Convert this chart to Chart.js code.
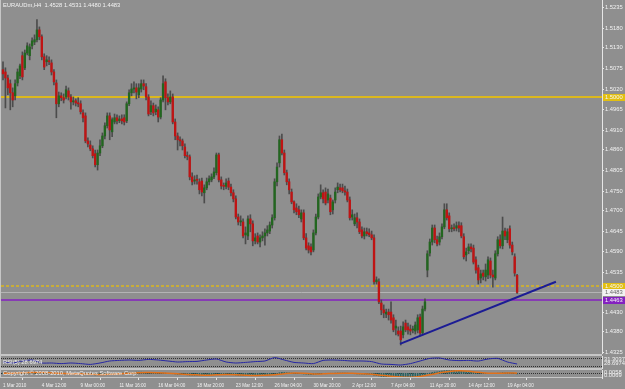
<!DOCTYPE html>
<html>
<head>
<meta charset="utf-8">
<script src="https://cdn.jsdelivr.net/npm/chart.js@4.4.1/dist/chart.umd.min.js"></script>
<style>
html, body { margin: 0; padding: 0; background: #8f8f8f; }
#wrap { position: relative; width: 625px; height: 389px; overflow: hidden; background: #8f8f8f; }
canvas { position: absolute; left: 0; }
</style>
</head>
<body>
<div id="wrap">
  <canvas id="main" width="625" height="354" style="top:0px"></canvas>
  <canvas id="rsi" width="625" height="16" style="top:354px"></canvas>
  <canvas id="osma" width="625" height="19" style="top:370px"></canvas>
</div>
<script>
// EURAUDm H4 candles, 1 Mar - 19 Apr 2010
const opens = [
  1.5071,1.5065,1.5049,1.5034,1.5010,1.5002,1.5036,1.5055,1.5108,1.5076,1.5115,1.5108,1.5134,1.5144,1.5150,1.5176,
  1.5158,1.5105,1.5092,1.5094,1.5089,1.5065,1.5036,1.4981,1.5002,1.4997,1.4999,1.5015,1.4999,1.4986,1.4989,1.4983,
  1.4981,1.4957,1.4949,1.4883,1.4872,1.4862,1.4849,1.4820,1.4851,1.4870,1.4896,1.4923,1.4949,1.4907,1.4933,1.4944,
  1.4936,1.4941,1.4944,1.4936,1.4981,1.5010,1.5020,1.5023,1.5005,1.5020,1.5034,1.5026,1.4999,1.4960,1.4976,1.4960,
  1.4965,1.4946,1.4991,1.5039,1.4997,1.4986,1.4999,1.4933,1.4896,1.4886,1.4883,1.4867,1.4844,1.4841,1.4788,1.4777,
  1.4780,1.4775,1.4777,1.4746,1.4759,1.4775,1.4780,1.4788,1.4799,1.4846,1.4780,1.4764,1.4763,1.4777,1.4761,1.4746,
  1.4730,1.4682,1.4669,1.4669,1.4635,1.4632,1.4677,1.4664,1.4619,1.4632,1.4616,1.4627,1.4632,1.4640,1.4645,1.4661,
  1.4680,1.4775,1.4825,1.4886,1.4851,1.4799,1.4775,1.4748,1.4722,1.4706,1.4701,1.4677,1.4693,1.4627,1.4606,1.4603,
  1.4595,1.4640,1.4682,1.4735,1.4746,1.4748,1.4727,1.4732,1.4701,1.4727,1.4754,1.4759,1.4759,1.4751,1.4748,1.4727,
  1.4682,1.4664,1.4680,1.4669,1.4648,1.4632,1.4643,1.4640,1.4635,1.4627,1.4511,1.4511,1.4455,1.4437,1.4426,1.4431,
  1.4431,1.4416,1.4389,1.4381,1.4381,1.4371,1.4402,1.4392,1.4386,1.4384,1.4381,1.4384,1.4418,1.4376,1.4439,1.4542,
  1.4587,1.4616,1.4653,1.4622,1.4616,1.4630,1.4656,1.4701,1.4685,1.4651,1.4653,1.4653,1.4659,1.4659,1.4630,1.4582,
  1.4593,1.4603,1.4600,1.4569,1.4548,1.4521,1.4534,1.4524,1.4529,1.4566,1.4529,1.4521,1.4585,1.4622,1.4606,1.4645,
  1.4622,1.4651,1.4608,1.4577,1.4528
];
const highs = [
  1.5092,1.5076,1.5057,1.5044,1.5023,1.5044,1.5073,1.5086,1.5118,1.5123,1.5142,1.5139,1.5155,1.5163,1.5203,1.5184,
  1.5163,1.5113,1.5108,1.5105,1.5097,1.5071,1.5044,1.5012,1.5010,1.5007,1.5028,1.5023,1.5005,1.4999,1.4994,1.4997,
  1.4989,1.4965,1.4957,1.4891,1.4883,1.4870,1.4859,1.4859,1.4886,1.4904,1.4931,1.4957,1.4957,1.4944,1.4954,1.4952,
  1.4949,1.4952,1.4952,1.4986,1.5018,1.5034,1.5039,1.5034,1.5034,1.5044,1.5044,1.5034,1.5005,1.4989,1.4983,1.4978,
  1.4973,1.4997,1.5055,1.5047,1.5007,1.5015,1.5007,1.4941,1.4904,1.4894,1.4888,1.4875,1.4854,1.4846,1.4799,1.4791,
  1.4793,1.4783,1.4785,1.4767,1.4785,1.4791,1.4796,1.4812,1.4851,1.4851,1.4788,1.4772,1.4783,1.4785,1.4769,1.4754,
  1.4738,1.4690,1.4685,1.4677,1.4656,1.4685,1.4688,1.4672,1.4638,1.4640,1.4635,1.4643,1.4651,1.4659,1.4669,1.4688,
  1.4783,1.4825,1.4896,1.4901,1.4859,1.4806,1.4783,1.4756,1.4725,1.4717,1.4711,1.4701,1.4701,1.4638,1.4614,1.4611,
  1.4648,1.4690,1.4743,1.4767,1.4754,1.4759,1.4756,1.4740,1.4727,1.4759,1.4772,1.4769,1.4769,1.4764,1.4756,1.4735,
  1.4701,1.4690,1.4693,1.4677,1.4656,1.4653,1.4653,1.4651,1.4645,1.4635,1.4524,1.4519,1.4463,1.4450,1.4439,1.4439,
  1.4458,1.4424,1.4410,1.4392,1.4394,1.4405,1.4410,1.4402,1.4397,1.4394,1.4405,1.4424,1.4426,1.4447,1.4466,1.4593,
  1.4624,1.4661,1.4661,1.4632,1.4640,1.4664,1.4717,1.4717,1.4693,1.4661,1.4664,1.4669,1.4669,1.4667,1.4638,1.4600,
  1.4611,1.4611,1.4608,1.4577,1.4555,1.4542,1.4542,1.4558,1.4577,1.4574,1.4542,1.4593,1.4630,1.4635,1.4682,1.4653,
  1.4651,1.4659,1.4616,1.4585,1.4531
];
const lows = [
  1.5044,1.4970,1.5005,1.4965,1.4973,1.4991,1.5028,1.5047,1.5044,1.5071,1.5110,1.5097,1.5126,1.5137,1.5144,1.5150,
  1.5097,1.5071,1.5081,1.5084,1.5057,1.5031,1.4944,1.4973,1.4989,1.4983,1.4994,1.4991,1.4967,1.4978,1.4975,1.4973,
  1.4954,1.4933,1.4878,1.4867,1.4857,1.4838,1.4814,1.4806,1.4844,1.4865,1.4888,1.4917,1.4886,1.4894,1.4928,1.4928,
  1.4931,1.4928,1.4925,1.4931,1.4976,1.5002,1.5010,1.4994,1.4997,1.5012,1.5018,1.4991,1.4949,1.4952,1.4949,1.4952,
  1.4933,1.4941,1.4986,1.4965,1.4978,1.4981,1.4928,1.4886,1.4859,1.4870,1.4859,1.4838,1.4833,1.4780,1.4767,1.4769,
  1.4769,1.4743,1.4738,1.4719,1.4754,1.4767,1.4775,1.4783,1.4793,1.4775,1.4756,1.4754,1.4756,1.4754,1.4738,1.4722,
  1.4677,1.4661,1.4659,1.4627,1.4611,1.4622,1.4643,1.4606,1.4611,1.4611,1.4603,1.4619,1.4608,1.4632,1.4638,1.4653,
  1.4674,1.4764,1.4814,1.4846,1.4793,1.4767,1.4743,1.4717,1.4693,1.4688,1.4680,1.4669,1.4622,1.4595,1.4587,1.4582,
  1.4590,1.4635,1.4677,1.4730,1.4719,1.4714,1.4719,1.4688,1.4690,1.4719,1.4746,1.4748,1.4746,1.4740,1.4722,1.4674,
  1.4674,1.4659,1.4653,1.4638,1.4627,1.4624,1.4632,1.4630,1.4622,1.4505,1.4505,1.4453,1.4424,1.4416,1.4416,1.4410,
  1.4402,1.4379,1.4371,1.4368,1.4344,1.4363,1.4379,1.4373,1.4371,1.4376,1.4373,1.4376,1.4368,1.4371,1.4434,1.4524,
  1.4579,1.4608,1.4614,1.4606,1.4608,1.4624,1.4651,1.4674,1.4643,1.4643,1.4645,1.4645,1.4643,1.4627,1.4571,1.4566,
  1.4585,1.4590,1.4558,1.4534,1.4505,1.4508,1.4516,1.4513,1.4519,1.4521,1.4497,1.4516,1.4579,1.4600,1.4598,1.4622,
  1.4614,1.4600,1.4582,1.4526,1.4480
];
const closes = [
  1.5060,1.5049,1.5023,1.5010,1.4991,1.5034,1.5065,1.5081,1.5052,1.5115,1.5134,1.5131,1.5147,1.5150,1.5176,1.5158,
  1.5105,1.5078,1.5097,1.5092,1.5065,1.5039,1.4981,1.5002,1.4997,1.4991,1.5018,1.4999,1.4986,1.4989,1.4983,1.4981,
  1.4960,1.4944,1.4883,1.4875,1.4862,1.4844,1.4820,1.4851,1.4870,1.4896,1.4923,1.4949,1.4912,1.4939,1.4944,1.4936,
  1.4941,1.4936,1.4933,1.4981,1.5010,1.5020,1.5023,1.5012,1.5023,1.5034,1.5028,1.4999,1.4954,1.4976,1.4957,1.4967,
  1.4946,1.4991,1.5034,1.4997,1.4986,1.4999,1.4933,1.4896,1.4886,1.4883,1.4870,1.4844,1.4842,1.4788,1.4775,1.4780,
  1.4779,1.4754,1.4748,1.4759,1.4775,1.4783,1.4788,1.4801,1.4846,1.4780,1.4764,1.4763,1.4772,1.4761,1.4746,1.4730,
  1.4682,1.4669,1.4672,1.4632,1.4640,1.4677,1.4664,1.4619,1.4627,1.4616,1.4627,1.4632,1.4640,1.4648,1.4661,1.4680,
  1.4775,1.4814,1.4886,1.4851,1.4799,1.4775,1.4754,1.4722,1.4701,1.4696,1.4688,1.4693,1.4627,1.4600,1.4595,1.4590,
  1.4640,1.4682,1.4735,1.4746,1.4730,1.4719,1.4743,1.4696,1.4722,1.4748,1.4761,1.4754,1.4751,1.4748,1.4727,1.4680,
  1.4688,1.4680,1.4669,1.4643,1.4632,1.4643,1.4638,1.4635,1.4627,1.4511,1.4516,1.4458,1.4437,1.4429,1.4431,1.4424,
  1.4410,1.4384,1.4394,1.4373,1.4358,1.4392,1.4384,1.4384,1.4381,1.4386,1.4397,1.4416,1.4376,1.4439,1.4458,1.4585,
  1.4616,1.4653,1.4622,1.4611,1.4630,1.4656,1.4701,1.4680,1.4651,1.4653,1.4651,1.4659,1.4653,1.4632,1.4577,1.4590,
  1.4603,1.4598,1.4563,1.4542,1.4516,1.4532,1.4526,1.4542,1.4569,1.4529,1.4524,1.4585,1.4622,1.4606,1.4645,1.4632,
  1.4643,1.4608,1.4590,1.4534,1.4483
];

// right price scale and bottom time scale
const priceTicks = [1.5235, 1.5180, 1.5130, 1.5075, 1.5020, 1.4965, 1.4910, 1.4860, 1.4805, 1.4750,
                    1.4700, 1.4645, 1.4590, 1.4535, 1.4430, 1.4380, 1.4325];
const timeTickBars = [0, 16, 32, 48, 64, 80, 96, 112, 128, 144, 160, 176, 192, 208];
const timeTickLabels = ['1 Mar 2010', '4 Mar 12:00', '9 Mar 00:00', '11 Mar 16:00', '16 Mar 04:00', '18 Mar 20:00',
                        '23 Mar 12:00', '26 Mar 04:00', '30 Mar 20:00', '2 Apr 12:00', '7 Apr 04:00', '11 Apr 20:00',
                        '14 Apr 12:00', '19 Apr 04:00'];

// horizontal lines and the trend line
const levelPrices = [1.5000, 1.4500, 1.4483, 1.4463];
const levelColors = ['#dcb81e', '#dcb81e', '#b4b4b4', '#8421c0'];
const levelWidths = [2, 1.5, 1, 1.5];
const levelBoxColors = ['#e2bf12', '#e2bf12', '#f2f2f2', '#8421c0'];
const levelBoxText = ['#f6f6f6', '#f6f6f6', '#6a6a6a', '#f6f6f6'];
const levelDash = [[], [3, 2], [], []];
const trendBars = [163.7, 228];
const trendPrices = [1.4347, 1.4511];

// RSI(5) sub window, read every 4 bars
const rsiBars = [0, 4, 8, 12, 16, 20, 24, 28, 32, 36, 40, 44, 48, 52, 56, 60, 64, 68, 72, 76, 80, 84, 88, 92, 96, 100,
                 104, 108, 112, 116, 120, 124, 128, 132, 136, 140, 144, 148, 152, 156, 160, 164, 168, 172, 176, 180,
                 184, 188, 192, 196, 200, 204, 208, 212];
const rsiValues = [50, 45, 55, 60, 45, 45, 42, 45, 42, 38, 45, 55, 58, 60, 58, 63, 60, 55, 50, 52, 53, 60, 65, 50, 45, 48,
                   52, 55, 72, 60, 48, 45, 42, 58, 60, 58, 55, 55, 52, 40, 38, 35, 42, 55, 68, 70,
                   60, 57, 58, 55, 65, 68, 50, 40];

// OsMA sub window: histogram per bar, orange signal every 4 bars
const osmaHist = [
  0.0002,0.0003,0.0003,0.0002,0.0001,0.0001,0.0002,0.0003,0.0004,0.0005,0.0006,0.0007,0.0008,0.0008,0.0009,0.0008,
  0.0006,0.0004,0.0003,0.0002,0.0001,0.0000,-0.0002,-0.0003,-0.0003,-0.0003,-0.0002,-0.0002,-0.0002,-0.0002,-0.0002,-0.0002,
  -0.0003,-0.0004,-0.0006,-0.0007,-0.0008,-0.0009,-0.0010,-0.0009,-0.0008,-0.0006,-0.0004,-0.0002,-0.0001,0.0000,0.0001,0.0002,
  0.0002,0.0003,0.0003,0.0004,0.0006,0.0007,0.0008,0.0009,0.0009,0.0009,0.0008,0.0006,0.0004,0.0003,0.0002,0.0001,
  0.0000,0.0001,0.0002,0.0002,0.0001,0.0000,-0.0002,-0.0004,-0.0006,-0.0007,-0.0008,-0.0009,-0.0010,-0.0012,-0.0013,-0.0013,
  -0.0013,-0.0013,-0.0013,-0.0012,-0.0011,-0.0010,-0.0009,-0.0007,-0.0005,-0.0005,-0.0006,-0.0006,-0.0006,-0.0007,-0.0008,-0.0009,
  -0.0011,-0.0013,-0.0014,-0.0015,-0.0016,-0.0016,-0.0015,-0.0015,-0.0015,-0.0015,-0.0014,-0.0013,-0.0012,-0.0011,-0.0010,-0.0008,
  -0.0004,0.0000,0.0005,0.0007,0.0007,0.0006,0.0005,0.0003,0.0001,0.0000,-0.0001,-0.0002,-0.0004,-0.0006,-0.0008,-0.0009,
  -0.0008,-0.0006,-0.0003,-0.0001,0.0000,0.0001,0.0001,0.0001,0.0001,0.0002,0.0003,0.0003,0.0003,0.0003,0.0002,0.0000,
  -0.0001,-0.0002,-0.0003,-0.0004,-0.0005,-0.0006,-0.0006,-0.0007,-0.0008,-0.0012,-0.0015,-0.0018,-0.0021,-0.0023,-0.0025,-0.0026,
  -0.0027,-0.0028,-0.0028,-0.0028,-0.0028,-0.0027,-0.0026,-0.0025,-0.0024,-0.0023,-0.0021,-0.0019,-0.0017,-0.0014,-0.0011,-0.0004,
  0.0002,0.0007,0.0010,0.0012,0.0014,0.0016,0.0019,0.0020,0.0020,0.0020,0.0020,0.0019,0.0018,0.0017,0.0014,0.0012,
  0.0010,0.0009,0.0007,0.0005,0.0003,0.0001,0.0000,-0.0001,0.0000,0.0000,-0.0001,0.0000,0.0002,0.0003,0.0005,0.0005,
  0.0005,0.0004,0.0003,0.0000,-0.0003
];
const osmaSignalBars = rsiBars;
const osmaSignal = [0.0001, 0.0002, 0.0004, 0.0006, 0.0006, 0.0003, 0.0000, -0.0002, -0.0003, -0.0005, -0.0007, -0.0005,
                    -0.0002, 0.0002, 0.0005, 0.0006, 0.0004, 0.0001, -0.0003, -0.0007, -0.0010, -0.0012, -0.0010, -0.0008,
                    -0.0009, -0.0012, -0.0014, -0.0013, -0.0009, -0.0002, 0.0003, 0.0001, -0.0004, -0.0003, 0.0000, 0.0002,
                    0.0001, -0.0002, -0.0006, -0.0013, -0.0020, -0.0025, -0.0026, -0.0021, -0.0010, 0.0004, 0.0014, 0.0018,
                    0.0015, 0.0008, 0.0002, 0.0001, 0.0003, 0.0002];

const FG = '#f2f2f2';
const EDGE = '#c6c6c6';
const FONT = 'Liberation Sans';
const xMin = -0.825, xMax = 247;

function bodyColor(i) {
    return closes[i] >= opens[i] ? '#22661f' : '#bf1414';
}

// no extra label padding, so the plot area is exactly the window
function noPad(s) {
    s.paddingTop = 0;
    s.paddingBottom = 0;
    s.paddingLeft = 0;
    s.paddingRight = 0;
}

// fixed width right axis so all three windows line up
function sideAxis(min, max, ticks) {
    return {
        position: 'right', min: min, max: max,
        afterBuildTicks: s => { s.ticks = ticks.map(v => ({value: v})); },
        afterFit: s => { s.width = 23; noPad(s); },
        ticks: {color: FG, font: {family: FONT, size: 5.8}, padding: 1, autoSkip: false,
                callback: v => v.toFixed(4)},
        grid: {drawOnChartArea: false, drawTicks: true, tickLength: 2, color: '#e6e6e6'},
        border: {color: '#e6e6e6', width: 1}
    };
}

const levelsPlugin = {
    id: 'levels',
    beforeDatasetsDraw(chart) {
        const {ctx, chartArea, scales} = chart;
        ctx.save();
        levelPrices.forEach((p, k) => {
            let py = Math.round(scales.y.getPixelForValue(p)) + (levelWidths[k] === 1 ? 0.5 : 0);
            ctx.strokeStyle = levelColors[k];
            ctx.lineWidth = levelWidths[k];
            ctx.setLineDash(levelDash[k]);
            ctx.beginPath();
            ctx.moveTo(chartArea.left, py);
            ctx.lineTo(chartArea.right, py);
            ctx.stroke();
        });
        ctx.restore();
    },
    afterDraw(chart) {
        const {ctx, chartArea, scales} = chart;
        ctx.save();
        ctx.font = '5.8px ' + FONT;
        ctx.textBaseline = 'middle';
        levelPrices.forEach((p, k) => {
            let py = Math.round(scales.y.getPixelForValue(p));
            ctx.fillStyle = levelBoxColors[k];
            ctx.fillRect(chartArea.right + 1, py - 3, 22, 7);
            ctx.fillStyle = levelBoxText[k];
            ctx.fillText(p.toFixed(4), chartArea.right + 3, py + 0.5);
        });
        ctx.fillStyle = FG;
        ctx.fillText('EURAUDm,H4  1.4528 1.4531 1.4480 1.4483', 3, 5);
        ctx.fillStyle = EDGE;
        ctx.fillRect(0, 0, 1, chart.height);
        ctx.restore();
    }
};

new Chart(document.getElementById('main'), {
    type: 'bar',
    data: {
        datasets: [
            {data: lows.map((l, i) => ({x: i, y: [l, highs[i]]})), backgroundColor: '#4c4c4c',
             barThickness: 1, grouped: false, order: 3},
            {data: opens.map((o, i) => ({x: i, y: [o, closes[i]]})), backgroundColor: opens.map((o, i) => bodyColor(i)),
             barThickness: 1.7, minBarLength: 1, grouped: false, order: 2},
            {type: 'line', data: trendBars.map((b, i) => ({x: b, y: trendPrices[i]})), borderColor: '#1c1c94',
             borderWidth: 2, pointRadius: 0, order: 1}
        ]
    },
    options: {
        responsive: false, animation: false, events: [],
        layout: {padding: {left: 1, top: 0, right: 0, bottom: 1}},
        plugins: {legend: {display: false}, tooltip: {enabled: false}},
        scales: {
            x: {type: 'linear', min: xMin, max: xMax, offset: false, display: false},
            y: sideAxis(1.4323, 1.5255, priceTicks)
        }
    },
    plugins: [levelsPlugin]
});

// RSI window: 70 and 30 levels dotted
const rsiPlugin = {
    id: 'rsiframe',
    beforeDatasetsDraw(chart) {
        const {ctx, chartArea, scales} = chart;
        ctx.save();
        ctx.strokeStyle = '#303030';
        ctx.setLineDash([1, 1]);
        [30, 70].forEach(v => {
            let py = Math.round(scales.y.getPixelForValue(v)) + 0.5;
            ctx.beginPath(); ctx.moveTo(chartArea.left, py); ctx.lineTo(chartArea.right, py); ctx.stroke();
        });
        ctx.restore();
    },
    afterDraw(chart) {
        const {ctx} = chart;
        ctx.save();
        ctx.fillStyle = EDGE;
        ctx.fillRect(0, 0, 602, 2);
        ctx.fillRect(0, 14, 602, 2);
        ctx.fillRect(0, 0, 1, chart.height);
        ctx.font = '5.8px ' + FONT;
        ctx.textBaseline = 'middle';
        ctx.fillStyle = FG;
        ctx.fillText('RSI(5) 28.6974', 3, 8);
        ctx.fillText('31.3037', 604, 5);
        ctx.fillText('28.6974', 604, 9);
        ctx.restore();
    }
};

new Chart(document.getElementById('rsi'), {
    type: 'line',
    data: {datasets: [{data: rsiBars.map((b, i) => ({x: b, y: rsiValues[i]})), borderColor: '#2626a4',
                       borderWidth: 1, pointRadius: 0, tension: 0.2}]},
    options: {
        responsive: false, animation: false, events: [],
        layout: {padding: {left: 1, top: 2, right: 0, bottom: 2}},
        plugins: {legend: {display: false}, tooltip: {enabled: false}},
        scales: {
            x: {type: 'linear', min: xMin, max: xMax, display: false},
            y: {position: 'right', min: 20, max: 80, afterFit: s => { s.width = 23; noPad(s); },
                ticks: {display: false}, grid: {display: false}, border: {color: '#e6e6e6'}}
        }
    },
    plugins: [rsiPlugin]
});

// OsMA window with the time scale under it
const osmaPlugin = {
    id: 'osmaframe',
    beforeDatasetsDraw(chart) {
        const {ctx, chartArea, scales} = chart;
        let py = Math.round(scales.y.getPixelForValue(0)) + 0.5;
        ctx.save();
        ctx.strokeStyle = '#303030';
        ctx.setLineDash([1, 1]);
        ctx.beginPath(); ctx.moveTo(chartArea.left, py); ctx.lineTo(chartArea.right, py); ctx.stroke();
        ctx.restore();
    },
    afterDraw(chart) {
        const {ctx} = chart;
        ctx.save();
        ctx.fillStyle = EDGE;
        ctx.fillRect(0, 0, 1, 8);
        ctx.fillRect(0, 7, 602, 1);
        ctx.font = '5.8px ' + FONT;
        ctx.textBaseline = 'middle';
        ctx.fillStyle = FG;
        ctx.fillText('Copyright \u00a9 2008-2010, MetaQuotes Software Corp.', 3, 3);
        ctx.fillText('0.0058', 604, 2);
        ctx.fillText('0.0069', 604, 5);
        ctx.restore();
    }
};

new Chart(document.getElementById('osma'), {
    type: 'bar',
    data: {
        datasets: [
            {type: 'line', data: osmaSignalBars.map((b, i) => ({x: b, y: osmaSignal[i]})), borderColor: '#e2711a',
             borderWidth: 1.5, pointRadius: 0, tension: 0.3, order: 1},
            {data: osmaHist.map((v, i) => ({x: i, y: v})), backgroundColor: '#2a6464',
             barThickness: 1, grouped: false, order: 2}
        ]
    },
    options: {
        responsive: false, animation: false, events: [],
        layout: {padding: {left: 1, top: 0, right: 0, bottom: 0}},
        plugins: {legend: {display: false}, tooltip: {enabled: false}},
        scales: {
            x: {type: 'linear', min: xMin, max: xMax, offset: false,
                afterBuildTicks: s => { s.ticks = timeTickBars.map(v => ({value: v})); },
                afterFit: s => { s.height = 11; noPad(s); },
                ticks: {color: FG, font: {family: FONT, size: 4.6}, padding: 3, align: 'start', maxRotation: 0,
                        autoSkip: false, callback: (v, i) => timeTickLabels[i]},
                grid: {drawOnChartArea: false, drawTicks: true, tickLength: 2, color: '#e6e6e6'},
                border: {display: false}},
            y: {position: 'right', min: -0.0032, max: 0.0024, afterFit: s => { s.width = 23; noPad(s); },
                ticks: {display: false}, grid: {display: false}, border: {color: '#e6e6e6'}}
        }
    },
    plugins: [osmaPlugin]
});
</script>
</body>
</html>
